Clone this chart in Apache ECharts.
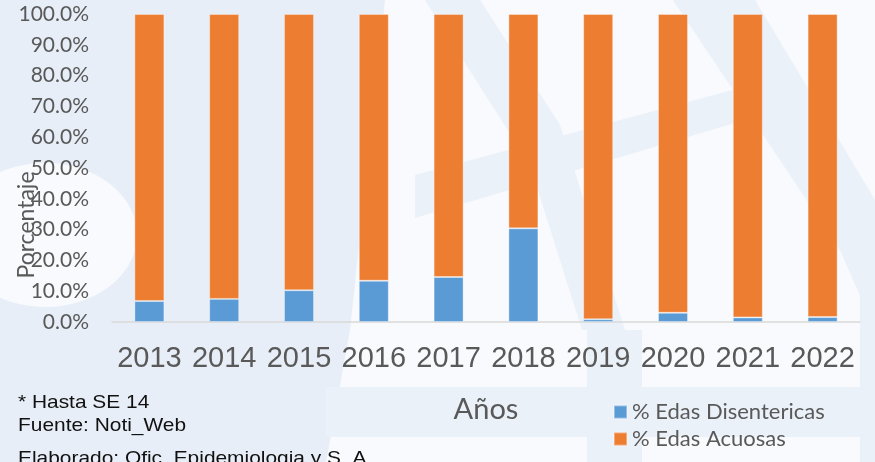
<!DOCTYPE html>
<html>
<head>
<meta charset="utf-8">
<script src="https://cdn.jsdelivr.net/npm/echarts@6/dist/echarts.min.js"></script>
<style>
  html, body { margin: 0; padding: 0; background: #f8fafd; }
  #chart { width: 875px; height: 462px; }
</style>
</head>
<body>
<div id="chart"></div>
<script>
// Años y porcentajes por tipo de EDA
const years = ['2013', '2014', '2015', '2016', '2017', '2018', '2019', '2020', '2021', '2022'];
const disentericas = [6.8, 7.5, 10.3, 13.4, 14.6, 30.4, 0.9, 3.0, 1.5, 1.6];
const acuosas = [93.2, 92.5, 89.7, 86.6, 85.4, 69.6, 99.1, 97.0, 98.5, 98.4];
const yTicks = [0, 10, 20, 30, 40, 50, 60, 70, 80, 90, 100];
const notes = ['* Hasta SE 14', 'Fuente: Noti_Web', 'Elaborado: Ofic. Epidemiologia y S. A.'];

const BLUE = '#5B9BD5';
const ORANGE = '#ED7D31';
const GRAY = '#595959';
const TINT = '#e7eef7';
const SOFT = '#ebf1f9';
const PALE = '#f8fafd';

const chart = echarts.init(document.getElementById('chart'));

// faint watermark shapes behind the plot
const backdrop = [
  { type: 'rect', shape: { x: 0, y: 0, width: 875, height: 462 }, style: { fill: PALE } },
  { type: 'polygon', shape: { points: [[0, 0], [385, 0], [350, 330], [326, 462], [0, 462]] }, style: { fill: TINT } },
  { type: 'ellipse', shape: { cx: 45, cy: 235, rx: 92, ry: 72 }, style: { fill: PALE } },
  { type: 'polygon', shape: { points: [[425, 0], [480, 0], [560, 125], [625, 330], [582, 330], [530, 165]] }, style: { fill: SOFT } },
  { type: 'polygon', shape: { points: [[415, 175], [740, 88], [745, 120], [415, 218]] }, style: { fill: SOFT } },
  { type: 'polygon', shape: { points: [[673, 0], [755, 0], [875, 200], [875, 330], [840, 250]] }, style: { fill: SOFT } },
  { type: 'rect', shape: { x: 587, y: 330, width: 55, height: 132 }, style: { fill: SOFT } },
  { type: 'rect', shape: { x: 326, y: 387, width: 549, height: 50 }, style: { fill: SOFT } },
  { type: 'rect', shape: { x: 860, y: 200, width: 15, height: 262 }, style: { fill: SOFT } }
].map(g => Object.assign(g, { z: -10, silent: true }));

const texts = [
  {
    type: 'text', x: 27, y: 225, rotation: Math.PI / 2,
    style: { text: 'Porcentaje', font: '23px Lato', fill: GRAY, align: 'center', verticalAlign: 'middle' }
  },
  {
    type: 'text', x: 486, y: 410,
    style: { text: 'Años', font: '29px Lato', fill: GRAY, align: 'center', verticalAlign: 'middle' }
  }
].concat(notes.map((t, i) => ({
  type: 'text', x: 18, y: [402.5, 426, 459][i], scaleX: 1.1,
  style: { text: t, font: '19px "Liberation Sans", Arial', fill: '#111', verticalAlign: 'middle' }
})));

const legendBase = {
  orient: 'vertical', left: 613, padding: 0,
  itemWidth: 13, itemHeight: 13, itemGap: 0,
  icon: 'rect',
  textStyle: { fontFamily: 'Lato', fontSize: 22, color: GRAY }
};

chart.setOption({
  animation: false,
  backgroundColor: 'transparent',
  grid: { left: 112, right: 15, top: 14, bottom: 140 },
  legend: [
    Object.assign({}, legendBase, { top: 401, data: ['% Edas Disentericas'] }),
    Object.assign({}, legendBase, { top: 428, data: ['% Edas Acuosas'] })
  ],
  xAxis: {
    type: 'category',
    data: years,
    axisTick: { show: false },
    axisLine: { lineStyle: { color: '#d9d9d9', width: 1.5 } },
    axisLabel: {
      interval: 0, margin: 22, color: GRAY, fontSize: 29,
      fontFamily: '"Liberation Sans", Arial, sans-serif'
    }
  },
  yAxis: {
    type: 'value',
    min: yTicks[0], max: yTicks[yTicks.length - 1], interval: 10,
    splitLine: { show: false },
    axisLine: { show: false },
    axisTick: { show: false },
    axisLabel: {
      margin: 23, color: GRAY, fontSize: 21, fontFamily: 'Lato',
      formatter: v => v.toFixed(1) + '%'
    }
  },
  series: [
    {
      name: '% Edas Disentericas', type: 'bar', stack: 'total', barWidth: 30,
      itemStyle: { color: BLUE, borderColor: 'rgba(255,255,255,0.35)', borderWidth: 1 },
      data: disentericas
    },
    {
      name: '% Edas Acuosas', type: 'bar', stack: 'total', barWidth: 30,
      itemStyle: { color: ORANGE, borderColor: 'rgba(255,255,255,0.35)', borderWidth: 1 },
      data: acuosas
    }
  ],
  graphic: backdrop.concat(texts)
});
</script>
</body>
</html>
